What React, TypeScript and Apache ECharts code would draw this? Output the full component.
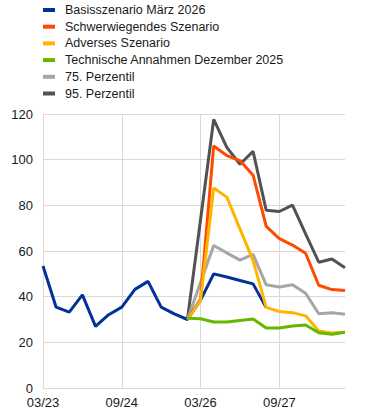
import React, { useEffect, useRef } from "react";
import * as echarts from "echarts";

const categories = [
  "03/23", "06/23", "09/23", "12/23", "03/24", "06/24", "09/24", "12/24",
  "03/25", "06/25", "09/25", "12/25", "03/26", "06/26", "09/26", "12/26",
  "03/27", "06/27", "09/27", "12/27", "03/28", "06/28", "09/28", "12/28",
];

const N = null;
const basis = [53.4, 35.4, 33.2, 40.8, 27.0, 32.1, 35.4, 43.2, 46.7, 35.4, 32.5, 30.0, 38.5, 50.0, 48.6, 47.1, 45.6, 35.2, N, N, N, N, N, N];
const schwer = [N, N, N, N, N, N, N, N, N, N, N, 30.0, 39.0, 106.0, 101.8, 99.6, 93.2, 70.8, 65.4, 62.6, 59.0, 45.0, 43.1, 42.7];
const advers = [N, N, N, N, N, N, N, N, N, N, N, 30.0, 38.5, 87.6, 83.6, 69.7, 55.8, 35.3, 33.5, 33.0, 31.6, 25.0, 24.1, 24.4];
const technisch = [N, N, N, N, N, N, N, N, N, N, N, 30.6, 30.3, 28.9, 28.9, 29.6, 30.2, 26.3, 26.3, 27.2, 27.6, 24.2, 23.5, 24.4];
const p75 = [N, N, N, N, N, N, N, N, N, N, N, 30.0, 46.2, 62.4, 59.2, 56.0, 58.5, 45.2, 44.2, 45.2, 41.5, 32.5, 33.0, 32.3];
const p95 = [N, N, N, N, N, N, N, N, N, N, N, 30.0, 73.8, 117.6, 105.4, 98.0, 103.6, 77.8, 77.3, 80.1, 67.5, 55.1, 56.5, 52.7];

const seriesNames = [
  "Basisszenario März 2026",
  "Schwerwiegendes Szenario",
  "Adverses Szenario",
  "Technische Annahmen Dezember 2025",
  "75. Perzentil",
  "95. Perzentil",
];
const seriesColors = ["#003299", "#ff4b00", "#ffb400", "#65b800", "#a6a6a6", "#525252"];
const seriesData = [basis, schwer, advers, technisch, p75, p95];
const drawOrder = [5, 4, 1, 0, 2, 3];

const FONT = "Liberation Sans, Arial, sans-serif";

export default function App() {
  const ref = useRef<HTMLDivElement>(null);
  useEffect(() => {
    if (!ref.current) return;
    const chart = echarts.init(ref.current, null, { renderer: "svg" });
    chart.setOption({
      animation: false,
      textStyle: { fontFamily: FONT },
      legend: {
        orient: "vertical",
        left: 43,
        top: 0.5,
        padding: 0,
        itemWidth: 12,
        itemHeight: 4,
        itemGap: -2.3,
        icon: "rect",
        data: seriesNames,
        textStyle: { fontFamily: FONT, fontSize: 12.5, color: "#1a1a1a", lineHeight: 13, padding: [6, 0, 0, 5] },
      },
      grid: { left: 43, right: 28, top: 114, bottom: 27 },
      xAxis: {
        type: "category",
        data: categories,
        boundaryGap: false,
        axisTick: { show: false },
        axisLine: { lineStyle: { color: "#d9d9d9", width: 1 } },
        axisLabel: { interval: 5, color: "#1a1a1a", fontSize: 13, fontFamily: FONT, margin: 8 },
        splitLine: { show: true, interval: 5, lineStyle: { color: "#d9d9d9", width: 1 } },
      },
      yAxis: {
        type: "value",
        min: 0,
        max: 120,
        interval: 20,
        axisLine: { show: false },
        axisTick: { show: false },
        axisLabel: { color: "#1a1a1a", fontSize: 13, fontFamily: FONT, margin: 10 },
        splitLine: { lineStyle: { color: "#d9d9d9", width: 1 } },
      },
      series: drawOrder.map((i) => ({
        name: seriesNames[i],
        type: "line",
        data: seriesData[i],
        showSymbol: false,
        symbol: "none",
        connectNulls: false,
        lineStyle: { color: seriesColors[i], width: 3 },
        itemStyle: { color: seriesColors[i] },
        z: 2 + drawOrder.indexOf(i),
      })),
    });
    return () => chart.dispose();
  }, []);
  return <div ref={ref} style={{ width: 373, height: 415, position: "absolute", left: 0, top: 0 }} />;
}
